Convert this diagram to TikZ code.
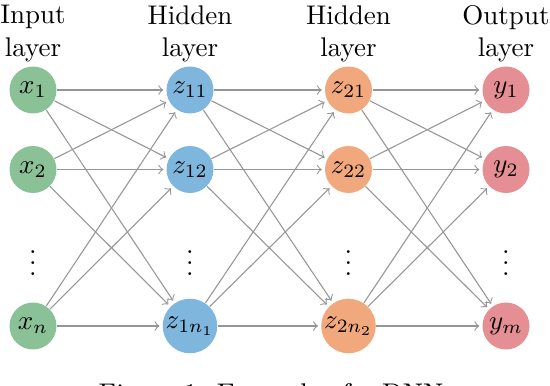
\documentclass[tikz,border=0pt]{standalone}
\definecolor{ngreen}{RGB}{139,193,150}
\definecolor{nblue}{RGB}{126,182,222}
\definecolor{norange}{RGB}{242,168,125}
\definecolor{npink}{RGB}{229,142,148}
\definecolor{edgegray}{RGB}{150,150,150}
\begin{document}
\begin{tikzpicture}[x=0.37037pt,y=-0.37037pt,
  neuron/.style={circle,minimum size=17.4pt,inner sep=0.4pt,draw=none},
  edge/.style={->,draw=edgegray,line width=0.4pt,shorten >=1pt},
  layerlabel/.style={align=center,anchor=north,inner sep=0pt},
  dotsnode/.style={inner sep=0pt}]
\useasboundingbox (0,0) rectangle (550,386);
% layer labels
\node[layerlabel] (lin) at (33,5) {Input\\layer};
\node[layerlabel] (lh1) at (190,5) {Hidden\\layer};
\node[layerlabel] (lh2) at (348.5,5) {Hidden\\layer};
\node[layerlabel] (lout) at (506,5) {Output\\layer};
% input
\node[neuron,fill=ngreen] (x1) at (33,90) {$x_1$};
\node[neuron,fill=ngreen] (x2) at (33,169.5) {$x_2$};
\node[neuron,fill=ngreen] (xn) at (33,326) {$x_n$};
% hidden 1
\node[neuron,fill=nblue] (a1) at (190,90) {$z_{11}$};
\node[neuron,fill=nblue] (a2) at (190,169.5) {$z_{12}$};
\node[neuron,fill=nblue] (an) at (190,326) {$z_{1n_1}$};
% hidden 2
\node[neuron,fill=norange] (b1) at (348.5,90) {$z_{21}$};
\node[neuron,fill=norange] (b2) at (348.5,169.5) {$z_{22}$};
\node[neuron,fill=norange] (bn) at (348.5,326) {$z_{2n_2}$};
% output
\node[neuron,fill=npink] (y1) at (506,90) {$y_1$};
\node[neuron,fill=npink] (y2) at (506,169.5) {$y_2$};
\node[neuron,fill=npink] (ym) at (506,326) {$y_m$};
% dots
\node[dotsnode] (dx) at (33,255) {$\vdots$};
\node[dotsnode] (da) at (190,255) {$\vdots$};
\node[dotsnode] (db) at (348.5,255) {$\vdots$};
\node[dotsnode] (dy) at (506,255) {$\vdots$};
% edges
\foreach \s in {x1,x2,xn} \foreach \t in {a1,a2,an} \draw[edge] (\s) -- (\t);
\foreach \s in {a1,a2,an} \foreach \t in {b1,b2,bn} \draw[edge] (\s) -- (\t);
\foreach \s in {b1,b2,bn} \foreach \t in {y1,y2,ym} \draw[edge] (\s) -- (\t);
% caption (cut off at the bottom edge)
\node[anchor=north,inner sep=0pt] (cap) at (271,383) {Figure 1: Example of a DNN};
\end{tikzpicture}
\end{document}
